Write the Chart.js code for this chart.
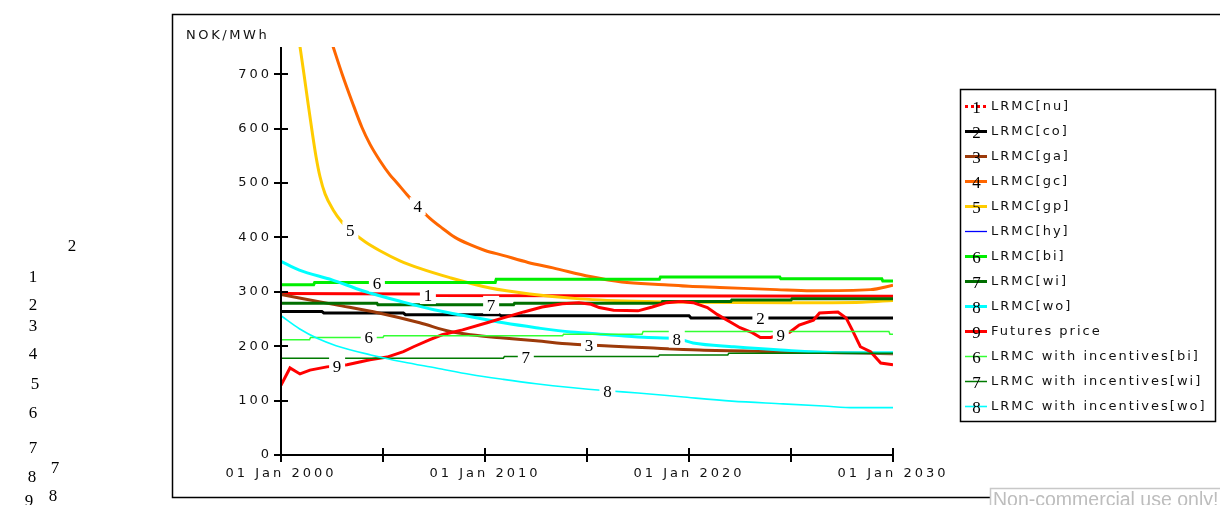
<!DOCTYPE html>
<html>
<head>
<meta charset="utf-8">
<title>LRMC and futures price</title>
<script src="https://cdn.jsdelivr.net/npm/chart.js@4.4.1/dist/chart.umd.min.js"></script>
<style>
  html, body { margin: 0; padding: 0; background: #fff; }
  canvas { display: block; }
</style>
</head>
<body>
<canvas id="chart" width="1220" height="505"></canvas>
<script>
// ---- data: [year, NOK/MWh] ----
const lrmcNu = [[2000,297],[2006.8,296],[2007.4,293],[2030,292]];
const lrmcCo = [[2000,264],[2002,264],[2002.1,261],[2006,261],[2006.1,258],[2010.7,258],[2010.8,256],[2020,256],[2020.1,252],[2030,252]];
const lrmcGa = [[2000,295],[2002.7,276],[2004.8,261],[2006.8,243],[2008.3,227],[2009.3,221],[2010.9,215],[2012.5,210],[2014.2,204],[2015.1,202],[2016.3,200],[2018,197],[2020.5,193],[2024.5,190],[2030,186]];
const lrmcGc = [[2002.55,751],[2002.99,701],[2003.48,650],[2003.97,602],[2004.36,571.5],[2004.85,541],[2005.34,515],[2005.69,500],[2006.18,478.5],[2006.72,456.5],[2007.3,435],[2007.94,416],[2008.53,400],[2009.27,386.5],[2010,376],[2010.88,367],[2012.11,354],[2013.33,344],[2015.15,328],[2016.7,318],[2018.8,313],[2020,310],[2021.5,308],[2024.3,304],[2026,302],[2028.9,304],[2030,312]];
const lrmcGp = [[2000.93,751],[2001.13,699],[2001.32,648],[2001.52,596],[2001.72,548],[2001.91,512],[2002.16,480],[2002.55,451],[2002.99,428],[2003.43,412],[2004.12,392],[2004.85,375.5],[2005.83,357],[2006.81,343],[2008.28,326],[2010.25,307],[2012.2,296],[2014.66,287],[2018,282],[2020,281],[2025,280],[2028.5,281],[2030,284]];
const lrmcHy = [];
const lrmcBi = [[2000,313],[2001.6,313],[2001.65,317],[2010.5,317],[2010.55,323],[2018.55,323],[2018.6,327],[2024.45,327],[2024.5,324],[2029.45,324],[2029.5,320],[2030,320]];
const lrmcWi = [[2000,279],[2004.7,279],[2004.75,276],[2011.4,276],[2011.45,279],[2018.65,279],[2018.7,282],[2022.05,282],[2022.1,285],[2025,285],[2025.05,287],[2030,287]];
const lrmcWo = [[2000,356],[2000.9,340],[2002.5,322],[2004,302],[2006,281],[2007.5,267],[2009.3,254],[2010.9,243],[2012.5,234],[2014.2,226],[2015.1,224],[2016.7,219],[2018,216],[2019.4,214],[2020.2,206],[2022.2,199],[2024.5,193],[2027.7,188],[2030,188]];
const futuresPrice = [[2000,128],[2000.05,132],[2000.44,160],[2000.93,149],[2001.42,156],[2002.25,162],[2003.24,166],[2004.36,175],[2005.2,180],[2006,190],[2006.5,199],[2007.3,212],[2007.9,221],[2008.9,230],[2010.1,243],[2010.9,252],[2011.9,263],[2012.8,272],[2013.8,278],[2014.6,280],[2015.2,277],[2015.6,271],[2016.3,266],[2017.5,265],[2018.2,272],[2018.9,280],[2019.6,282],[2020.2,280],[2020.9,271],[2021.4,258],[2022,245],[2022.5,234],[2023.1,225],[2023.5,216],[2024,216],[2024.95,226],[2025.4,239],[2026.1,248],[2026.4,261],[2027.3,263],[2027.7,252],[2028,230],[2028.4,199],[2028.9,190],[2029.4,169],[2030,166]];
const incBi = [[2000,212],[2001.4,212],[2001.45,216],[2005,216],[2005.05,219],[2013.8,219],[2013.85,222],[2017.7,222],[2017.75,227],[2029.8,227],[2029.85,222],[2030,222]];
const incWi = [[2000,178],[2010.9,178],[2010.95,181],[2018.5,181],[2018.55,184],[2021.9,184],[2021.95,187],[2030,187]];
const incWo = [[2000,256],[2000.9,232],[2001.8,214],[2002.7,201],[2004.4,184],[2006,171],[2007.6,160],[2009.3,148],[2010.9,139],[2012.5,131],[2014.2,124],[2016,118],[2017.5,114],[2019.6,107],[2022.1,99],[2024.6,94],[2026.6,90],[2028.1,87],[2030,87]];

// ---- series names, line numbers and where the numbers sit on each line ----
const seriesNames = ['LRMC[nu]','LRMC[co]','LRMC[ga]','LRMC[gc]','LRMC[gp]','LRMC[hy]','LRMC[bi]','LRMC[wi]','LRMC[wo]','Futures price','LRMC with incentives[bi]','LRMC with incentives[wi]','LRMC with incentives[wo]'];
const seriesTags  = ['1','2','3','4','5','','6','7','8','9','6','7','8'];
const tagYears    = [[2007.2],[2023.5],[2015.1],[2006.7],[2003.4],[],[2004.7],[2010.3],[2019.4],[2002.75,2024.5],[2004.3],[2012.0],[2016.0]];

// ---- axis ticks ----
const xTickYears  = [2000, 2005, 2010, 2015, 2020, 2025, 2030];
const xTickLabels = ['01 Jan 2000', '', '01 Jan 2010', '', '01 Jan 2020', '', '01 Jan 2030'];
const yTickValues = [0, 100, 200, 300, 400, 500, 600, 700];
const yUnit = 'NOK/MWh';

// ---- styling ----
const seriesData   = [lrmcNu, lrmcCo, lrmcGa, lrmcGc, lrmcGp, lrmcHy, lrmcBi, lrmcWi, lrmcWo, futuresPrice, incBi, incWi, incWo];
const seriesColors = ['#ff0000','#000000','#9c3a0a','#ff6600','#ffcc00','#0000ff','#00ee00','#006e00','#00ffff','#ff0000','#33ff33','#007a00','#00ffff'];
const seriesWidths = [3, 3, 3, 3, 3, 1.3, 3, 3, 3, 3, 1.5, 1.5, 1.6];
const smoothCurve  = [false, false, true, true, true, false, false, false, true, false, false, false, true];
const legendDashes = [[3,3], [], [], [], [], [], [], [], [], [], [], [], []];

const SANS = '"DejaVu Sans", Verdana, sans-serif';
const SERIF = '"Liberation Serif", "Times New Roman", serif';

const datasets = seriesData.map((d, i) => ({
  label: seriesNames[i],
  data: d,
  borderColor: seriesColors[i],
  backgroundColor: seriesColors[i],
  borderWidth: seriesWidths[i],
  pointRadius: 0,
  fill: false,
  tension: 0,
  cubicInterpolationMode: smoothCurve[i] ? 'monotone' : 'default',
  order: 20 - i,
  tag: seriesTags[i],
  tagYears: tagYears[i],
  legendDash: legendDashes[i]
}));

function valueAt(points, year) {
  for (let k = 0; k < points.length - 1; k++) {
    const [x0, y0] = points[k], [x1, y1] = points[k + 1];
    if (year >= x0 && year <= x1) return y0 + (y1 - y0) * (year - x0) / (x1 - x0);
  }
  return null;
}

const decor = {
  id: 'decor',
  beforeDraw(chart) {
    const ctx = chart.ctx;
    ctx.fillStyle = '#fff';
    ctx.fillRect(0, 0, chart.width, chart.height);
    // wide tracking for the tick labels
    ctx.letterSpacing = '3px';
  },
  afterDatasetsDraw(chart) {
    const ctx = chart.ctx, xs = chart.scales.x, ys = chart.scales.y;
    ctx.save();
    ctx.letterSpacing = '0px';
    ctx.font = '17px ' + SERIF;
    ctx.textAlign = 'center';
    ctx.textBaseline = 'alphabetic';
    chart.data.datasets.forEach(ds => {
      (ds.tagYears || []).forEach(yr => {
        const v = valueAt(ds.data, yr);
        if (v === null) return;
        const px = xs.getPixelForValue(yr), py = ys.getPixelForValue(v);
        ctx.fillStyle = '#fff';
        ctx.fillRect(px - 8, py - 9, 16, 18);
        ctx.fillStyle = '#000';
        ctx.fillText(ds.tag, px, py + 6);
      });
    });
    ctx.restore();
  },
  afterDraw(chart) {
    const ctx = chart.ctx, xs = chart.scales.x, ys = chart.scales.y, a = chart.chartArea;
    ctx.save();
    // axes with ticks crossing the axis line
    ctx.strokeStyle = '#000';
    ctx.lineWidth = 2;
    ctx.beginPath();
    ctx.moveTo(a.left, a.top); ctx.lineTo(a.left, a.bottom);
    ctx.moveTo(a.left, a.bottom); ctx.lineTo(a.right, a.bottom);
    yTickValues.forEach(v => {
      const y = Math.round(ys.getPixelForValue(v));
      ctx.moveTo(a.left - 7, y); ctx.lineTo(a.left + 7, y);
    });
    xTickYears.forEach(v => {
      const x = Math.round(xs.getPixelForValue(v));
      ctx.moveTo(x, a.bottom - 7); ctx.lineTo(x, a.bottom + 7);
    });
    ctx.stroke();

    // outer frame
    ctx.lineWidth = 1.5;
    ctx.beginPath();
    ctx.moveTo(1220, 14.5); ctx.lineTo(172.5, 14.5); ctx.lineTo(172.5, 497.5); ctx.lineTo(990, 497.5);
    ctx.stroke();

    // unit label
    ctx.fillStyle = '#111';
    ctx.font = '13px ' + SANS;
    ctx.letterSpacing = '2.6px';
    ctx.textAlign = 'left';
    ctx.textBaseline = 'middle';
    ctx.fillText(yUnit, 186, 36);

    // legend
    const lx = 960.5, ly = 89.5, lw = 255, lh = 332;
    ctx.lineWidth = 1.5;
    ctx.strokeStyle = '#000';
    ctx.strokeRect(lx, ly, lw, lh);
    chart.data.datasets.forEach((ds, i) => {
      const y = 106.5 + i * 25;
      ctx.save();
      ctx.strokeStyle = ds.borderColor;
      ctx.lineWidth = ds.borderWidth;
      ctx.setLineDash(ds.legendDash || []);
      ctx.beginPath();
      ctx.moveTo(965, y); ctx.lineTo(987, y);
      ctx.stroke();
      ctx.restore();
      if (ds.tag) {
        ctx.save();
        ctx.letterSpacing = '0px';
        ctx.font = '17px ' + SERIF;
        ctx.fillStyle = '#000';
        ctx.textAlign = 'center';
        ctx.textBaseline = 'alphabetic';
        ctx.fillText(ds.tag, 976.5, y + 6);
        ctx.restore();
      }
      ctx.fillStyle = '#111';
      ctx.font = '13px ' + SANS;
      ctx.letterSpacing = '2px';
      ctx.textAlign = 'left';
      ctx.textBaseline = 'middle';
      ctx.fillText(ds.label, 991, y);
    });

    // loose line numbers in the left margin
    ctx.letterSpacing = '0px';
    ctx.font = '17px ' + SERIF;
    ctx.fillStyle = '#000';
    ctx.textAlign = 'center';
    ctx.textBaseline = 'alphabetic';
    [['2',72,251],['1',33,282],['2',33,310],['3',33,331],['4',33,359],['5',35,389],['6',33,418],['7',33,453],['8',32,482],['7',55,473],['9',29,506],['8',53,501]]
      .forEach(([t, x, y]) => ctx.fillText(t, x, y));

    // watermark
    ctx.strokeStyle = '#c8c8c8';
    ctx.lineWidth = 1.5;
    ctx.strokeRect(990.5, 488.5, 260, 30);
    ctx.fillStyle = '#bdbdbd';
    ctx.font = '19.5px "Liberation Sans", Arial, sans-serif';
    ctx.textAlign = 'left';
    ctx.fillText('Non-commercial use only!', 993, 506);
    ctx.restore();
  }
};

const tickFont = { family: SANS, size: 13 };

new Chart(document.getElementById('chart'), {
  type: 'line',
  data: { datasets },
  options: {
    responsive: false,
    animation: false,
    devicePixelRatio: 1,
    layout: { padding: { left: 0, right: 327, top: 47, bottom: 0 } },
    plugins: { legend: { display: false }, tooltip: { enabled: false } },
    scales: {
      x: {
        type: 'linear', min: 2000, max: 2030,
        grid: { display: false, drawTicks: false, tickLength: 0 },
        border: { display: false },
        afterFit(s) { s.height = 50; },
        afterBuildTicks(s) { s.ticks = xTickYears.map(v => ({ value: v })); },
        ticks: {
          autoSkip: false, maxRotation: 0, padding: 11, color: '#111', font: tickFont,
          callback: v => xTickLabels[xTickYears.indexOf(v)] || ''
        }
      },
      y: {
        type: 'linear', min: 0, max: 750,
        grid: { display: false, drawTicks: false, tickLength: 0 },
        border: { display: false },
        afterFit(s) { s.width = 281; },
        afterBuildTicks(s) { s.ticks = yTickValues.map(v => ({ value: v })); },
        ticks: { padding: 9, color: '#111', font: tickFont }
      }
    }
  },
  plugins: [decor]
});
</script>
</body>
</html>
